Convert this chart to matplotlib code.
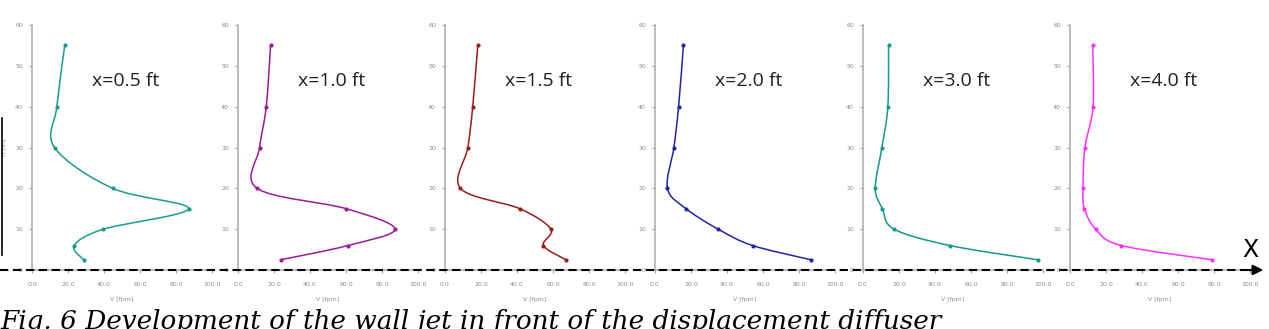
import numpy as np
import matplotlib
matplotlib.use("Agg")
import matplotlib.pyplot as plt
from matplotlib.path import Path
from matplotlib.patches import PathPatch, FancyArrowPatch
from matplotlib.lines import Line2D

# Heights of the measuring points [in]
heights = [2.5, 6, 10, 15, 20, 30, 40, 55]

# Velocity profiles V [fpm] at each distance from the diffuser
v_05 = [28.7, 23.4, 39.7, 87.0, 44.8, 12.5, 13.8, 18.2]
v_10 = [23.7, 61.1, 87.2, 60.2, 10.6, 12.0, 15.7, 18.1]
v_15 = [67.2, 54.7, 58.8, 41.6, 8.6, 12.7, 15.4, 18.2]
v_20 = [86.7, 54.2, 35.1, 17.3, 6.9, 10.5, 13.1, 15.8]
v_30 = [97.2, 48.2, 17.3, 10.8, 6.8, 10.5, 13.8, 14.2]
v_40 = [79.0, 28.5, 14.3, 8.0, 7.2, 8.3, 12.8, 12.6]

profiles = [v_05, v_10, v_15, v_20, v_30, v_40]
titles = ["x=0.5 ft", "x=1.0 ft", "x=1.5 ft", "x=2.0 ft", "x=3.0 ft", "x=4.0 ft"]
colors = ["#1a9c8c", "#9c1a9c", "#9c1c1c", "#2424a0", "#139a8c", "#ff30ff"]

x_ticks = [0, 20, 40, 60, 80, 100]
y_ticks = [0, 10, 20, 30, 40, 50, 60]

W, H = 1269, 329
fig = plt.figure(figsize=(W / 100, H / 100), dpi=100)

# panel positions in pixels (left edge of the y axis)
lefts = [32, 238, 445, 655, 863, 1070]
ax_w, ax_top, ax_bot = 180, 25, 270


def smooth_path(xs, ys):
    # Excel-like smoothed line: cubic bezier through the points
    pts = np.column_stack([xs, ys])
    verts = [pts[0]]
    codes = [Path.MOVETO]
    n = len(pts)
    for i in range(n - 1):
        p0 = pts[i - 1] if i > 0 else pts[i]
        p1 = pts[i]
        p2 = pts[i + 1]
        p3 = pts[i + 2] if i + 2 < n else pts[i + 1]
        c1 = p1 + (p2 - p0) / 6.0
        c2 = p2 - (p3 - p1) / 6.0
        verts += [c1, c2, p2]
        codes += [Path.CURVE4] * 3
    return Path(verts, codes)


gray = "#8c8c8c"
for i, (v, t, c) in enumerate(zip(profiles, titles, colors)):
    ax = fig.add_axes([lefts[i] / W, (H - ax_bot) / H, ax_w / W, (ax_bot - ax_top) / H])
    ax.add_patch(PathPatch(smooth_path(v, heights), facecolor="none", edgecolor=c, lw=1.1))
    ax.plot(v, heights, "o", color=c, ms=3, mew=0)
    ax.set_xlim(0, 100)
    ax.set_ylim(0, 60)
    ax.set_xticks(x_ticks)
    ax.set_xticklabels([f"{x:.1f}" for x in x_ticks])
    ax.set_yticks(y_ticks)
    for s in ["top", "right"]:
        ax.spines[s].set_visible(False)
    for s in ["left", "bottom"]:
        ax.spines[s].set_color("#b0b0b0")
        ax.spines[s].set_linewidth(1.2)
    ax.tick_params(axis="both", direction="out", length=2.5, width=0.8, color="#a0a0a0",
                   labelsize=4.5, labelcolor=gray)
    ax.tick_params(axis="x", pad=6)
    ax.tick_params(axis="y", pad=4)
    ax.set_xlabel("V [fpm]", fontsize=4.5, color=gray, labelpad=7)
    if i == 0:
        ax.set_ylabel("H [in]", fontsize=4.5, color=gray, labelpad=6)
    ax.text(0.52, 0.77, t, transform=ax.transAxes, ha="center", va="center",
            fontsize=14, family="Open Sans", color="#222222")
    ax.patch.set_alpha(0)

# dashed floor line with arrow
yl = (H - 270) / H
fig.add_artist(Line2D([0, 1252 / W], [yl, yl], color="black", lw=1.5,
                      dashes=(4, 2.2), transform=fig.transFigure))
fig.add_artist(FancyArrowPatch(
    (1246 / W, yl), (1266 / W, yl), transform=fig.transFigure,
    arrowstyle="-|>,head_length=6,head_width=3", color="black", lw=1.5,
    mutation_scale=1))
fig.text(1250 / W, (H - 250) / H, "X", fontsize=17, family="DejaVu Sans",
         ha="center", va="center", color="black")

# vertical line on left edge
fig.add_artist(Line2D([1.5 / W, 1.5 / W], [(H - 255) / H, (H - 118) / H], color="black",
                      lw=1.2, transform=fig.transFigure))

# caption (partly cut off at the bottom, as in the source)
fig.text(0.0, 0.5 / H, "Fig. 6 Development of the wall jet in front of the displacement diffuser",
         fontsize=18.9, family="DejaVu Serif", style="italic", ha="left", va="baseline",
         color="black")

fig.savefig("out.png", dpi=100)
